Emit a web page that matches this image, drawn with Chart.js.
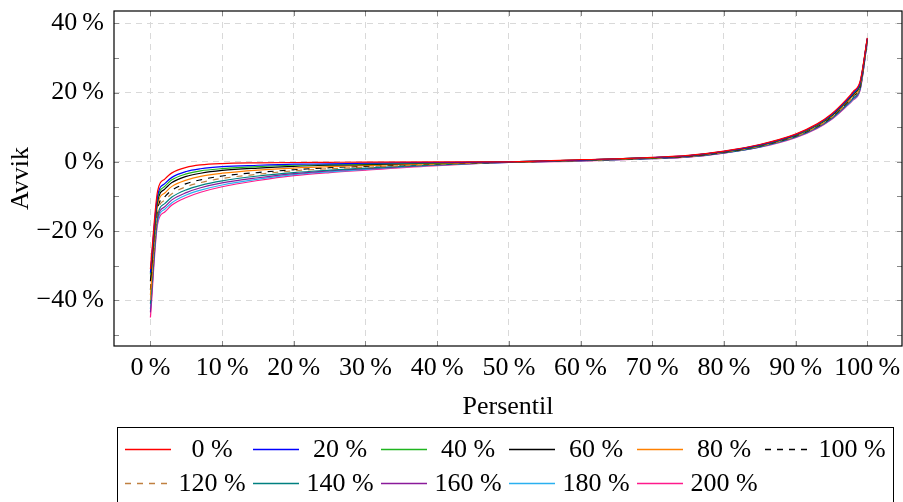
<!DOCTYPE html>
<html>
<head>
<meta charset="utf-8">
<script src="https://cdn.jsdelivr.net/npm/chart.js@4.4.1/dist/chart.umd.min.js"></script>
<style>
  html, body { margin: 0; padding: 0; background: #fff; overflow: hidden; }
  #wrap { position: relative; width: 903px; height: 502px; }
</style>
</head>
<body>
<div id="wrap"><canvas id="chart"></canvas></div>
<script>
// percentile positions (x)
const percentiles = [0, 1, 2, 3, 5, 7, 10, 15, 20, 25, 30, 40, 50, 60, 70, 75, 80, 85, 90, 93, 95, 97, 98, 99, 100];

const seriesNames  = ['0 %', '20 %', '40 %', '60 %', '80 %', '100 %', '120 %', '140 %', '160 %', '180 %', '200 %'];
const seriesColors = ['#ff0000', '#0000ff', '#1fb51f', '#000000', '#ff8000', '#000000', '#c08040', '#008080', '#8a1a9a', '#2ab0f0', '#ff1a8c'];
const seriesDashed = [false, false, false, false, false, true, true, false, false, false, false];

// deviation (%) per percentile
const s0   = [-31, -8.5, -5, -3.2, -1.6, -0.9, -0.5, -0.3, -0.2, -0.15, -0.1, -0.05, 0, 0.6, 1.3, 1.85, 3.1, 5.0, 8.0, 10.95, 13.8, 17.8, 20.2, 23.3, 35.8];
const s20  = [-32, -9.8, -6.3, -4.5, -2.8, -2.0, -1.4, -1.0, -0.7, -0.6, -0.4, -0.2, 0, 0.5, 1.24, 1.78, 3.02, 4.89, 7.86, 10.77, 13.58, 17.52, 19.86, 22.94, 35.66];
const s40  = [-32.5, -10.6, -7.1, -5.2, -3.5, -2.6, -2.0, -1.4, -1.0, -0.8, -0.6, -0.3, 0, 0.5, 1.21, 1.74, 2.97, 4.82, 7.78, 10.66, 13.45, 17.36, 19.67, 22.73, 35.58];
const s60  = [-34.5, -11.4, -7.9, -6.0, -4.2, -3.3, -2.5, -1.8, -1.3, -1.0, -0.8, -0.35, 0, 0.5, 1.18, 1.70, 2.92, 4.76, 7.7, 10.56, 13.32, 17.2, 19.48, 22.52, 35.5];
const s80  = [-38.5, -12.5, -9.0, -7.1, -5.3, -4.2, -3.3, -2.4, -1.8, -1.4, -1.1, -0.5, -0.1, 0.4, 1.13, 1.64, 2.85, 4.66, 7.58, 10.4, 13.13, 16.96, 19.19, 22.21, 35.38];
const s100 = [-37, -13.6, -10.1, -8.2, -6.3, -5.2, -4.1, -3.1, -2.3, -1.7, -1.3, -0.6, -0.1, 0.4, 1.08, 1.58, 2.78, 4.57, 7.46, 10.25, 12.94, 16.72, 18.9, 21.9, 35.26];
const s120 = [-40, -14.6, -11.1, -9.2, -7.2, -6.0, -4.8, -3.6, -2.6, -2.0, -1.6, -0.7, -0.1, 0.4, 1.04, 1.53, 2.72, 4.49, 7.36, 10.12, 12.78, 16.52, 18.66, 21.64, 35.16];
const s140 = [-41, -15.6, -12.1, -10.2, -8.1, -6.8, -5.5, -4.1, -3.1, -2.4, -1.8, -0.8, -0.1, 0.3, 1.0, 1.48, 2.65, 4.4, 7.25, 9.98, 12.6, 16.3, 18.4, 21.35, 35.05];
const s160 = [-43.5, -16.5, -13.0, -11.0, -8.9, -7.5, -6.1, -4.6, -3.4, -2.6, -2.0, -0.9, -0.2, 0.3, 0.96, 1.43, 2.6, 4.33, 7.16, 9.86, 12.46, 16.12, 18.18, 21.12, 34.96];
const s180 = [-42.5, -17.2, -13.7, -11.8, -9.6, -8.2, -6.7, -5.0, -3.7, -2.9, -2.2, -1.0, -0.2, 0.3, 0.93, 1.39, 2.55, 4.26, 7.08, 9.75, 12.33, 15.96, 17.99, 20.91, 34.88];
const s200 = [-45, -18, -14.5, -12.5, -10.3, -8.8, -7.2, -5.4, -4.0, -3.1, -2.4, -1.1, -0.2, 0.2, 0.9, 1.35, 2.5, 4.2, 7.0, 9.65, 12.2, 15.8, 17.8, 20.7, 34.8];

const seriesValues = [s0, s20, s40, s60, s80, s100, s120, s140, s160, s180, s200];

// tick positions
const xTicks = [0, 10, 20, 30, 40, 50, 60, 70, 80, 90, 100];
const yTicks = [-50, -40, -30, -20, -10, 0, 10, 20, 30, 40];
const yLabelEvery = 20;

const FONT = '"Liberation Serif", serif';
const pct = v => (v < 0 ? '\u2212' + Math.abs(v) : String(v)) + '\u2009%';

// box round the plot + inward tick marks on all four sides
const frame = {
  id: 'frame',
  afterDatasetsDraw(chart) {
    const { ctx, chartArea: a, scales: { x, y } } = chart;
    ctx.save();
    ctx.strokeStyle = '#888';
    ctx.lineWidth = 1;
    ctx.beginPath();
    x.ticks.forEach(t => {
      const px = Math.round(x.getPixelForValue(t.value)) + 0.5;
      ctx.moveTo(px, a.bottom); ctx.lineTo(px, a.bottom - 5);
      ctx.moveTo(px, a.top); ctx.lineTo(px, a.top + 5);
    });
    y.ticks.forEach(t => {
      const py = Math.round(y.getPixelForValue(t.value)) + 0.5;
      ctx.moveTo(a.left, py); ctx.lineTo(a.left + 5, py);
      ctx.moveTo(a.right, py); ctx.lineTo(a.right - 5, py);
    });
    ctx.stroke();
    ctx.strokeStyle = '#000';
    ctx.lineWidth = 1.2;
    ctx.strokeRect(a.left, a.top, a.right - a.left, a.bottom - a.top);
    ctx.restore();
  }
};

// legend below the axis title: boxed table, 6 columns
const boxLegend = {
  id: 'boxLegend',
  afterDraw(chart) {
    const { ctx } = chart;
    const left = 117.5, top = 427.5, width = 776, cell = 128;
    ctx.save();
    ctx.strokeStyle = '#000';
    ctx.lineWidth = 1;
    ctx.strokeRect(left, top, width, 100);
    ctx.font = '26px ' + FONT;
    ctx.fillStyle = '#000';
    ctx.textAlign = 'center';
    ctx.textBaseline = 'middle';
    chart.data.datasets.forEach((ds, i) => {
      const row = Math.floor(i / 6), col = i % 6;
      const cy = 449 + 34 * row;
      const x0 = 125 + cell * col;
      ctx.save();
      ctx.strokeStyle = ds.borderColor;
      ctx.lineWidth = 1.5;
      ctx.setLineDash(ds.borderDash || []);
      ctx.beginPath();
      ctx.moveTo(x0, cy + 0.5);
      ctx.lineTo(x0 + 46, cy + 0.5);
      ctx.stroke();
      ctx.restore();
      ctx.fillText(ds.label, x0 + 87, cy + 1);
    });
    ctx.restore();
  }
};

new Chart(document.getElementById('chart'), {
  type: 'line',
  data: {
    datasets: seriesValues.map((vals, i) => ({
      label: seriesNames[i],
      data: vals.map((v, j) => ({ x: percentiles[j], y: v })),
      borderColor: seriesColors[i],
      borderWidth: 1.2,
      borderDash: seriesDashed[i] ? [6, 6] : [],
      pointRadius: 0,
      cubicInterpolationMode: 'monotone',
      fill: false,
    }))
  },
  options: {
    responsive: true, maintainAspectRatio: false,
    animation: false,
    layout: { padding: { top: 11, right: 1, left: 0, bottom: 77 } },
    plugins: { legend: { display: false }, tooltip: { enabled: false } },
    scales: {
      x: {
        type: 'linear', min: -5.08, max: 104.84,
        afterBuildTicks: s => { s.ticks = xTicks.map(v => ({ value: v })); },
        afterFit: s => { s.height = 79; s.paddingLeft = 0; s.paddingRight = 0; },
        ticks: {
          maxRotation: 0, minRotation: 0, autoSkip: false, padding: 7,
          font: { family: FONT, size: 26 }, color: '#000',
          callback: v => pct(v)
        },
        grid: { color: '#d9d9d9', lineWidth: 1, drawTicks: false },
        border: { display: false, dash: [6, 5] },
        title: { display: true, text: 'Persentil', color: '#000', font: { family: FONT, size: 26 }, padding: { top: 0, bottom: 2 } }
      },
      y: {
        type: 'linear', min: -53.21, max: 43.56,
        afterBuildTicks: s => { s.ticks = yTicks.map(v => ({ value: v })); },
        afterFit: s => { s.width = 114; s.paddingTop = 0; s.paddingBottom = 0; },
        ticks: {
          autoSkip: false, padding: 10,
          font: { family: FONT, size: 26 }, color: '#000',
          callback: v => (v % yLabelEvery === 0 ? pct(v) : '')
        },
        grid: {
          color: c => (c.tick && c.tick.value % yLabelEvery === 0 ? '#d9d9d9' : 'rgba(0,0,0,0)'),
          lineWidth: 1, drawTicks: false
        },
        border: { display: false, dash: [6, 5] },
        title: { display: true, text: 'Avvik', color: '#000', font: { family: FONT, size: 26 }, padding: { top: 6, bottom: 0 } }
      }
    }
  },
  plugins: [frame, boxLegend]
});
</script>
</body>
</html>
